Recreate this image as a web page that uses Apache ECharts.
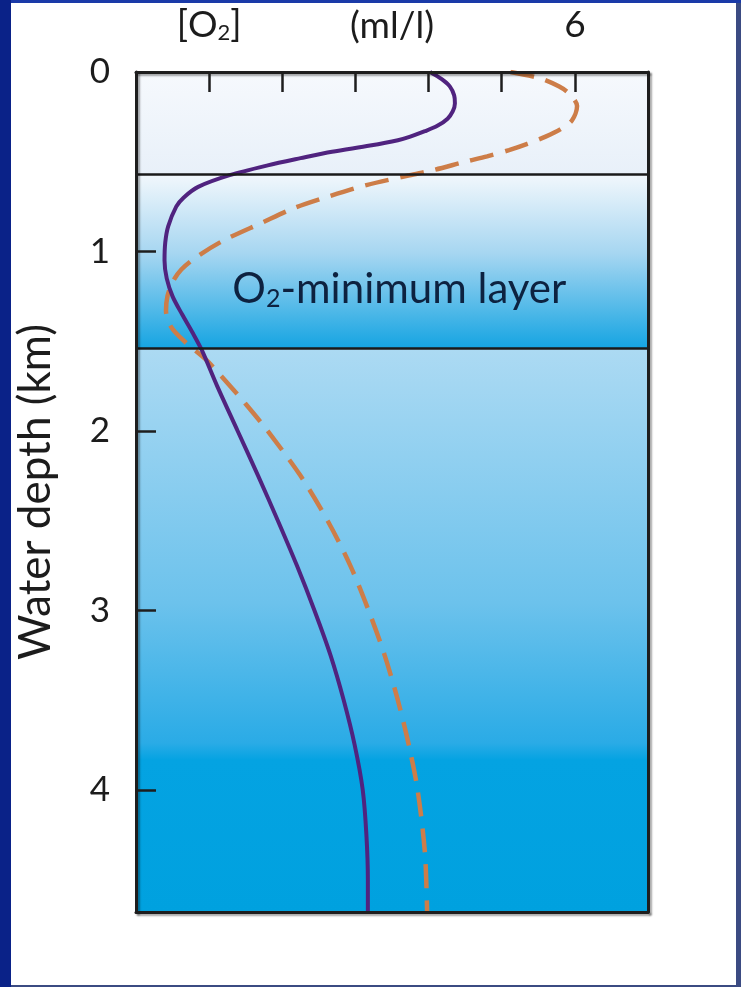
<!DOCTYPE html>
<html>
<head>
<meta charset="utf-8">
<script src="https://cdn.jsdelivr.net/npm/echarts@6/dist/echarts.min.js"></script>
<style>
  html, body { margin: 0; padding: 0; width: 741px; height: 987px; overflow: hidden; background: #0a2288; }
  #topstrip { position: absolute; left: 11px; top: 0; width: 730px; height: 3px; background: #1a3aa8; }
  #panel { position: absolute; left: 11px; top: 3px; width: 725px; height: 982px; background: #ffffff; }
  #rstrip { position: absolute; left: 736px; top: 3px; width: 5px; height: 984px; background: #3b4b82; }
  #bstrip { position: absolute; left: 11px; top: 985px; width: 730px; height: 2px; background: #3b4b82; }
  #chart { position: absolute; left: 0; top: 0; width: 741px; height: 987px; }
</style>
</head>
<body>
<div id="topstrip"></div>
<div id="panel"></div>
<div id="rstrip"></div>
<div id="bstrip"></div>
<div id="chart"></div>
<script>
// ---- data ----
const xTickLabels = ['', '[O2]', '', '', '', '', '6', ''];   // O2 axis, 0..7 ml/l
const xAxisName = '(ml/l)';
const yTickLabels = ['0', '1', '2', '3', '4'];               // depth, km
const yAxisName = 'Water depth (km)';
const depthMax = 4.68;

// layer boundaries (km)
const layerBounds = [0, 0.575, 1.545, depthMax];
const layerLabel = 'O2-minimum layer';
const layerLabelPos = [3.6, 1.21];

// solid purple profile
const depthSolid = [0, 0.04, 0.08, 0.13, 0.175, 0.22, 0.26, 0.30, 0.33, 0.36, 0.38, 0.41, 0.444, 0.48, 0.52, 0.575, 0.64, 0.70, 0.75, 0.86, 0.95, 1.05, 1.15, 1.25, 1.35, 1.45, 1.55, 1.75, 2.0, 2.25, 2.5, 2.75, 3.0, 3.25, 3.5, 3.75, 4.0, 4.25, 4.5, 4.68];
const o2Solid    = [4.02, 4.18, 4.29, 4.35, 4.36, 4.33, 4.26, 4.12, 3.95, 3.75, 3.58, 3.2, 2.68, 2.25, 1.8, 1.28, 0.85, 0.65, 0.55, 0.44, 0.40, 0.39, 0.42, 0.50, 0.63, 0.77, 0.90, 1.11, 1.39, 1.67, 1.94, 2.20, 2.44, 2.66, 2.84, 2.99, 3.10, 3.15, 3.17, 3.17];

// dashed orange profile
const depthDashed = [0, 0.035, 0.08, 0.12, 0.19, 0.27, 0.32, 0.36, 0.40, 0.435, 0.47, 0.50, 0.547, 0.575, 0.63, 0.695, 0.76, 0.84, 0.94, 1.03, 1.10, 1.17, 1.25, 1.33, 1.42, 1.50, 1.60, 1.70, 1.85, 2.0, 2.25, 2.5, 2.75, 3.0, 3.25, 3.5, 3.75, 4.0, 4.35, 4.68];
const o2Dashed    = [5.12, 5.52, 5.78, 5.92, 6.03, 5.96, 5.80, 5.60, 5.35, 5.10, 4.80, 4.50, 4.06, 3.74, 3.15, 2.62, 2.15, 1.72, 1.19, 0.83, 0.62, 0.50, 0.43, 0.41, 0.48, 0.66, 0.95, 1.18, 1.50, 1.80, 2.25, 2.62, 2.93, 3.18, 3.40, 3.58, 3.73, 3.85, 3.95, 3.98];

// ---- chart ----
const FONT = 'Lato';
const TXT = '#1c1c1c';
function sub(s) {
  // rich text: "O2" rendered with a subscript 2
  const parts = s.split('O2');
  let out = '';
  parts.forEach((p, i) => {
    if (p) out += '{a|' + p + '}';
    if (i < parts.length - 1) out += '{a|O}{s|2}';
  });
  return out;
}
const chart = echarts.init(document.getElementById('chart'), null, { renderer: 'canvas' });

const axisLineStyle = { color: '#1e1e1e', width: 3, shadowColor: 'rgba(0,0,0,0.35)', shadowBlur: 2, shadowOffsetX: 2, shadowOffsetY: 2 };
const tickStyle = { color: '#1e1e1e', width: 2.5 };

const bandGradients = [
  new echarts.graphic.LinearGradient(0, 0, 0, 1, [
    { offset: 0, color: '#f6f9fd' }, { offset: 1, color: '#e8f0f9' }]),
  new echarts.graphic.LinearGradient(0, 0, 0, 1, [
    { offset: 0, color: '#f1f7fc' }, { offset: 0.45, color: '#a6d6f1' }, { offset: 1, color: '#14a4e2' }]),
  new echarts.graphic.LinearGradient(0, 0, 0, 1, [
    { offset: 0, color: '#acdaf3' }, { offset: 0.45, color: '#6cc2ec' }, { offset: 0.7, color: '#2aabe6' },
    { offset: 0.73, color: '#04a3e2' }, { offset: 1, color: '#00a1df' }])
];

const markAreaData = [];
for (let i = 0; i < layerBounds.length - 1; i++) {
  markAreaData.push([
    { yAxis: layerBounds[i], itemStyle: { color: bandGradients[i], opacity: 1 } },
    { yAxis: layerBounds[i + 1] }
  ]);
}

const richText = {
  a: { fontFamily: FONT, fontSize: 37, color: TXT, lineHeight: 40, verticalAlign: 'middle' },
  s: { fontFamily: FONT, fontSize: 22, color: TXT, lineHeight: 40, verticalAlign: 'bottom', padding: [0, 0, 1, 0] }
};
const richLayer = {
  a: { fontFamily: FONT, fontSize: 42, color: '#0d2240', lineHeight: 46, verticalAlign: 'middle' },
  s: { fontFamily: FONT, fontSize: 25, color: '#0d2240', lineHeight: 46, verticalAlign: 'bottom', padding: [0, 0, 1, 0] }
};

chart.setOption({
  animation: false,
  backgroundColor: 'transparent',
  grid: { left: 136, right: 93, top: 72, bottom: 75, containLabel: false, outerBoundsMode: 'none' },
  xAxis: [
    {
      type: 'value', position: 'top', min: 0, max: 7, interval: 1, z: 10,
      axisLine: { show: true, lineStyle: axisLineStyle },
      axisTick: { show: true, inside: true, length: 20, lineStyle: tickStyle },
      splitLine: { show: false },
      axisLabel: {
        margin: 27, fontFamily: FONT, fontSize: 37, color: TXT,
        formatter: v => { const t = xTickLabels[Math.round(v)]; return (Number.isInteger(v) && t) ? sub(t) : ''; },
        rich: richText
      },
      name: xAxisName, nameLocation: 'middle', nameGap: 46, nameMoveOverlap: false,
      nameTextStyle: { fontFamily: FONT, fontSize: 37, color: TXT, verticalAlign: 'middle' }
    },
    {
      type: 'value', position: 'bottom', min: 0, max: 7, interval: 1, z: 10,
      axisLine: { show: true, onZero: false, lineStyle: axisLineStyle },
      axisTick: { show: false }, axisLabel: { show: false }, splitLine: { show: false }
    }
  ],
  yAxis: [
    {
      type: 'value', inverse: true, position: 'left', min: 0, max: depthMax, interval: 1, z: 10,
      axisLine: { show: true, onZero: false, lineStyle: axisLineStyle },
      axisTick: { show: true, inside: true, length: 20, lineStyle: tickStyle },
      splitLine: { show: false },
      axisLabel: {
        margin: 26, fontFamily: FONT, fontSize: 35, color: TXT,
        formatter: v => Number.isInteger(v) && yTickLabels[v] !== undefined ? yTickLabels[v] : ''
      },
      name: yAxisName, nameLocation: 'middle', nameGap: 78, nameRotate: 90, nameMoveOverlap: false,
      nameTextStyle: { fontFamily: FONT, fontSize: 44, color: TXT }
    },
    {
      type: 'value', inverse: true, position: 'right', min: 0, max: depthMax, interval: 1, z: 10,
      axisLine: { show: true, onZero: false, lineStyle: axisLineStyle },
      axisTick: { show: false }, axisLabel: { show: false }, splitLine: { show: false }
    }
  ],
  series: [
    {
      name: 'layers', type: 'line', data: [], z: 1, silent: true,
      markArea: { silent: true, data: markAreaData },
      markLine: {
        silent: true, symbol: ['none', 'none'],
        label: { show: false },
        lineStyle: { color: '#1a1a1a', width: 2.5, type: 'solid' },
        data: [{ yAxis: layerBounds[1] }, { yAxis: layerBounds[2] }]
      },
      markPoint: {
        silent: true, symbol: 'circle', symbolSize: 1,
        itemStyle: { color: 'rgba(0,0,0,0)' },
        label: { show: true, position: 'inside', formatter: sub(layerLabel), rich: richLayer },
        data: [{ coord: layerLabelPos }]
      }
    },
    {
      name: 'Dashed profile', type: 'line', z: 3,
      data: depthDashed.map((d, i) => [o2Dashed[i], d]),
      showSymbol: false, smooth: 0.3,
      lineStyle: { color: '#cd7d48', width: 4.5, type: [24, 12], cap: 'butt' }
    },
    {
      name: 'Solid profile', type: 'line', z: 4,
      data: depthSolid.map((d, i) => [o2Solid[i], d]),
      showSymbol: false, smooth: 0.3,
      lineStyle: { color: '#50237f', width: 4 }
    }
  ]
});
</script>
</body>
</html>
